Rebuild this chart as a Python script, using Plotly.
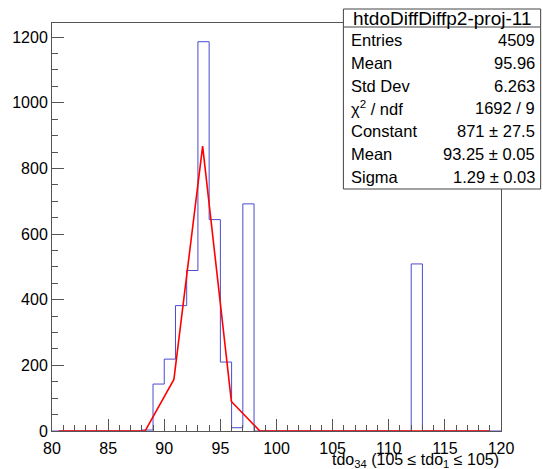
import plotly.graph_objects as go

# histogram: 40 bins of width 1 from 80 to 120 (only non-empty bins listed)
bin_low = list(range(80, 120))
filled = {88: 3, 89: 143, 90: 219, 91: 382, 92: 489, 93: 1186, 94: 644,
          95: 210, 96: 10, 97: 692, 112: 509}
counts = [filled.get(b, 0) for b in bin_low]

# gaussian fit curve as drawn (polyline points)
fit_x = [80.6, 88.3, 90.86, 93.42, 95.98, 98.5, 119.0]
fit_y = [0, 0.5, 157, 868, 90, 0.5, 0]

stats_title = "htdoDiffDiffp2-proj-11"
stats_names = ["Entries", "Mean", "Std Dev", "χ<sup>2</sup> / ndf", "Constant", "Mean", "Sigma"]
stats_values = ["4509", "95.96", "6.263", "1692 / 9", "871 ± 27.5", "93.25 ± 0.05", "1.29 ± 0.03"]

W, H = 543, 469
L, R, T, B = 48, 501, 23, 431
FONT = "Liberation Sans, Arial, Helvetica, sans-serif"

def px_x(p):
    return (p - L) / (R - L)

def px_y(p):
    return (B - p) / (B - T)

# step outline like ROOT
xs = [bin_low[0]] + bin_low + [bin_low[-1] + 1]
ys = [0] + counts + [0]

fig = go.Figure()
fig.add_trace(go.Scatter(x=xs, y=ys, mode="lines", line_shape="hv",
                         line=dict(color="#4b4bd0", width=1), hoverinfo="skip"))
fig.add_trace(go.Scatter(x=fit_x, y=fit_y, mode="lines",
                         line=dict(color="#ff0000", width=1.6), hoverinfo="skip"))

axis_common = dict(showline=True, linecolor="#555", linewidth=1, mirror=True,
                   ticks="inside", tickcolor="#555", showgrid=False, zeroline=False,
                   tickfont=dict(size=16, color="black", family=FONT))
fig.update_xaxes(range=[80, 120], dtick=5, tick0=80, ticklen=12, ticklabelstandoff=3,
                 minor=dict(ticks="inside", dtick=1, ticklen=6, tickcolor="#555"),
                 **axis_common)
fig.update_yaxes(range=[0, 1243], dtick=200, tick0=0, ticklen=12,
                 minor=dict(ticks="inside", dtick=50, ticklen=6, tickcolor="#555"),
                 **axis_common)

# stats box
bx0, bx1, by0, by1 = 342, 541, 9, 189
fig.add_shape(type="rect", xref="paper", yref="paper",
              x0=px_x(bx0), x1=px_x(bx1), y0=px_y(by1), y1=px_y(by0),
              line=dict(color="#444", width=1), fillcolor="white", layer="above")
fig.add_shape(type="line", xref="paper", yref="paper",
              x0=px_x(bx0), x1=px_x(bx1), y0=px_y(27), y1=px_y(27),
              line=dict(color="#444", width=1), layer="above")
fig.add_annotation(xref="paper", yref="paper", x=px_x((bx0 + bx1) / 2), y=px_y(18),
                   text=stats_title, showarrow=False, xanchor="center", yanchor="middle",
                   font=dict(size=19, color="black", family=FONT))
for i, (nm, val) in enumerate(zip(stats_names, stats_values)):
    yy = 40 + i * 22.8
    fig.add_annotation(xref="paper", yref="paper", x=px_x(348), y=px_y(yy),
                       text=nm, showarrow=False, xanchor="left", yanchor="middle",
                       font=dict(size=16.5, color="black", family=FONT))
    fig.add_annotation(xref="paper", yref="paper", x=px_x(537), y=px_y(yy),
                       text=val, showarrow=False, xanchor="right", yanchor="middle",
                       font=dict(size=16.5, color="black", family=FONT))

# x axis title
fig.add_annotation(xref="paper", yref="paper", x=1.0, y=px_y(460),
                   text="tdo<sub>34</sub> (105 ≤ tdo<sub>1</sub> ≤ 105)", showarrow=False,
                   xanchor="right", yanchor="middle",
                   font=dict(size=16, color="black", family=FONT))

fig.update_layout(width=W, height=H, showlegend=False,
                  margin=dict(l=L, r=W - R, t=T, b=H - B),
                  plot_bgcolor="white", paper_bgcolor="white",
                  font=dict(family=FONT))

# page margin off so the figure sits at the window's corner
fig.write_html("out.html", config={"displayModeBar": False},
               post_script="document.body.style.margin='0';")
